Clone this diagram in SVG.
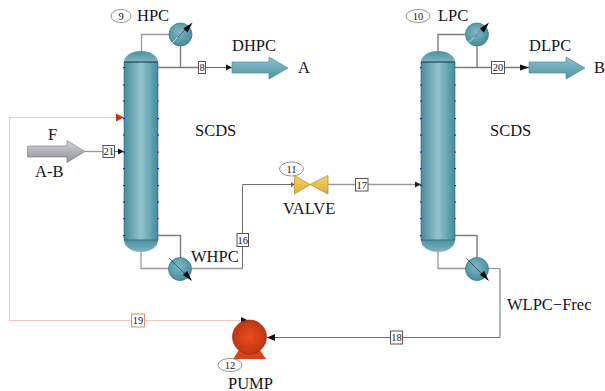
<svg xmlns="http://www.w3.org/2000/svg" width="605" height="391" viewBox="0 0 605 391">
<style>
text{font-family:"Liberation Serif","Times New Roman",serif;fill:#14141e}
.l{font-size:16.500px}
.n{font-size:10.500px;text-anchor:middle}
.s{fill:none;stroke:#6e6e6e;stroke-width:1}
.g{fill:none;stroke:#9a9a9a;stroke-width:1.300}
.d{fill:none;stroke:#7d7d7d;stroke-width:1.400}
.r{fill:none;stroke:#f2c9be;stroke-width:1.200}
.b{fill:#fff;stroke:#555;stroke-width:1}
.o{fill:#fff;stroke:#777;stroke-width:.8}
.p{fill:#2222ee}.m{fill:#b020b0}
.c{fill:url(#hx);stroke:#3d7f8e;stroke-width:.8}
</style>
<defs>
<linearGradient id="col" x1="0" x2="1" y1="0" y2="0"><stop offset="0" stop-color="#478c9b"/><stop offset=".5" stop-color="#93c3cd"/><stop offset="1" stop-color="#428c9c"/></linearGradient>
<linearGradient id="cap" x1="0" x2="0" y1="0" y2="1"><stop offset="0" stop-color="#4b929f"/><stop offset="1" stop-color="#7db6c2"/></linearGradient>
<radialGradient id="hx" cx=".45" cy=".4" r=".65"><stop offset="0" stop-color="#7fb9c5"/><stop offset="1" stop-color="#3f8899"/></radialGradient>
<linearGradient id="arr" x1="0" x2="0" y1="0" y2="1"><stop offset="0" stop-color="#8fc0cb"/><stop offset="1" stop-color="#4e95a5"/></linearGradient>
<linearGradient id="gry" x1="0" x2="0" y1="0" y2="1"><stop offset="0" stop-color="#d4d6da"/><stop offset="1" stop-color="#8b8e94"/></linearGradient>
<linearGradient id="vlv" x1="0" x2="0" y1="0" y2="1"><stop offset="0" stop-color="#f3d262"/><stop offset="1" stop-color="#e0b030"/></linearGradient>
<radialGradient id="pmp" cx=".5" cy=".5" r=".55"><stop offset="0" stop-color="#ee4c1e"/><stop offset="1" stop-color="#b93410"/></radialGradient>
<g id="column">
<path d="M0 11A17 11 0 0 1 34 11Z" fill="url(#cap)"/>
<rect x="0" y="11" width="34" height="178" fill="url(#col)"/>
<path d="M0 189H34A17 12 0 0 1 0 189Z" fill="url(#cap)"/>
<path d="M0 11H34" stroke="#1c2c30" stroke-width="1"/>
<path d="M0 189H34" stroke="#3f6c76" stroke-width="1.200"/>
<path d="M0 11V189M34 11V189" stroke="#2f6674" stroke-width=".6" fill="none"/>
</g>
<g id="dots">
<g class="p"><rect x="-1" y="16" width="2" height="1.200"/><rect x="-1" y="33.500" width="2" height="1.200"/><rect x="-1" y="49.500" width="2" height="1.200"/><rect x="-1" y="67" width="2" height="1.200"/><rect x="-1" y="83.500" width="2" height="1.200"/><rect x="-1" y="100.500" width="2" height="1.200"/><rect x="-1" y="117" width="2" height="1.200"/><rect x="-1" y="134" width="2" height="1.200"/><rect x="-1" y="150.500" width="2" height="1.200"/><rect x="-1" y="167" width="2" height="1.200"/><rect x="-1" y="184" width="2" height="1.200"/>
<rect x="33" y="67" width="2" height="1.200"/><rect x="33" y="83.500" width="2" height="1.200"/><rect x="33" y="117" width="2" height="1.200"/><rect x="33" y="134" width="2" height="1.200"/><rect x="33" y="150.500" width="2" height="1.200"/></g>
<g class="m"><rect x="33" y="33.500" width="2" height="1.200"/><rect x="33" y="49.500" width="2" height="1.200"/><rect x="33" y="100.500" width="2" height="1.200"/><rect x="33" y="167" width="2" height="1.200"/></g>
</g>
<g id="cond">
<circle r="11.500" class="c"/>
<path d="M-11 11L8 -8" stroke="#e8f0f2" stroke-width=".8"/><path d="M-3 3L9 -9" stroke="#233" stroke-width=".7"/>
<path d="M12 -12L3 -6L7 -2Z" fill="#000"/>
</g>
<g id="reb">
<circle r="11.500" class="c"/>
<path d="M-11 -11L11 11" stroke="#233" stroke-width=".7"/>
<path d="M12 12L3 6L7 2Z" fill="#000"/>
</g>
</defs>
<g id="connectors">
<path class="g" d="M141.500 51V34.500H170"/>
<path class="d" d="M158 67.500H205M180.500 45.500V67.500"/>
<path class="s" d="M205 67.500H232"/>
<path class="d" d="M158 235.500H180.500V258"/>
<path class="g" d="M141 252V268.500H169M192 268.500H242.500"/>
<path class="s" d="M242.500 268.500V184.500H294"/>
<path class="g" d="M328 184.500H421"/>
<path class="d" d="M438 51V34.500H466"/>
<path class="d" d="M455 67.500H529M477 45.500V67.500"/>
<path class="d" d="M455 235.500H477V258"/>
<path class="g" d="M438 252V268.500H466"/>
<path class="g" d="M488 268.500H500"/>
<path class="s" d="M500 268.500V337.500H267" stroke-width="1.200"/>
<path class="g" d="M85 151.500H103"/>
<path class="s" d="M114 151.500H124"/>
<path class="r" d="M124 117.500H9.500V320.500H248"/>
<path d="M124 117.500L116 113.500V121.500Z" fill="#c8320f"/>
<path d="M124 151.500L118 148.500V154.500Z" fill="#111"/>
<path d="M232 67.500L226 64.500V70.500Z" fill="#111"/>
<path d="M529 67.500L520 64.500V70.500Z" fill="#111"/>
<path d="M421 184.500L415 181.500V187.500Z" fill="#222"/>
<path d="M294.500 184.500L291 182V187Z" fill="#c8320f"/>
<path d="M248 320.500L241 317V324Z" fill="#111"/>
<path d="M267 337.500L275 334V341Z" fill="#111"/>
</g>
<g id="HPC">
<use href="#column" x="124" y="51"/><use href="#dots" x="124" y="51"/>
<text class="l" x="137" y="21">HPC</text>
<ellipse class="o" cx="121" cy="16" rx="10" ry="6.500"/><text class="n" x="121" y="19.500">9</text>
<text class="l" x="195" y="136">SCDS</text>
</g>
<g id="HPC-cond"><use href="#cond" x="180.500" y="34.500"/></g>
<g id="HPC-reb"><use href="#reb" x="180" y="269"/><text class="l" x="191" y="262">WHPC</text></g>
<g id="LPC">
<use href="#column" x="421" y="51"/><use href="#dots" x="421" y="51"/>
<text class="l" x="438" y="21">LPC</text>
<ellipse class="o" cx="418" cy="16" rx="12" ry="6.500"/><text class="n" x="418" y="19.500">10</text>
<text class="l" x="490" y="136">SCDS</text>
</g>
<g id="LPC-cond"><use href="#cond" x="477" y="34.500"/></g>
<g id="LPC-reb"><use href="#reb" x="477" y="269"/><text class="l" x="507" y="310">WLPC−Frec</text></g>
<g id="F">
<path d="M27.500 146H67V140.500L85 151.500L67 162.500V157H27.500Z" fill="url(#gry)" stroke="#777" stroke-width=".6"/>
<text class="l" x="48" y="140">F</text><text class="l" x="35" y="177">A-B</text>
</g>
<g id="DHPC">
<path d="M232 62H269V57L288 68L269 79V73H232Z" fill="url(#arr)" stroke="#3f7f8f" stroke-width=".6"/>
<text class="l" x="232" y="51">DHPC</text><text class="l" x="298" y="73">A</text>
</g>
<g id="DLPC">
<path d="M529 62H566V57L585 68L566 79V73H529Z" fill="url(#arr)" stroke="#3f7f8f" stroke-width=".6"/>
<text class="l" x="529" y="51">DLPC</text><text class="l" x="594" y="73">B</text>
</g>
<g id="VALVE">
<path d="M294.500 175.500L310 184.500L294.500 194ZM328 175.500L310 184.500L328 194Z" fill="url(#vlv)" stroke="#a88a2a" stroke-width=".7"/>
<ellipse class="o" cx="291.500" cy="169" rx="12" ry="7"/><text class="n" x="291.500" y="172.500">11</text>
<text class="l" x="283" y="214">VALVE</text>
</g>
<g id="PUMP">
<path d="M233 359L241 347H258L266 359Z" fill="#d9431a"/>
<circle cx="249.500" cy="337" r="17" fill="url(#pmp)" stroke="#7c2a10" stroke-width=".6"/>
<ellipse class="o" cx="230" cy="365" rx="12" ry="6.500"/><text class="n" x="230" y="368.500">12</text>
<text class="l" x="228" y="388.500">PUMP</text>
</g>
<g id="labels">
<rect class="b" x="198.500" y="61.500" width="7" height="12" stroke="#aaa"/><text class="n" x="202" y="71">8</text>
<rect class="b" x="491.500" y="61.500" width="13" height="12"/><text class="n" x="498" y="71">20</text>
<rect class="b" x="103" y="145.500" width="11.500" height="12"/><text class="n" x="108.700" y="155">21</text>
<rect class="b" x="355.500" y="178.500" width="12.500" height="12.500"/><text class="n" x="361.700" y="188.500">17</text>
<rect class="b" x="237" y="233.500" width="11.500" height="13" stroke="#aaa"/><text class="n" x="242.700" y="243.500">16</text>
<rect class="b" x="390.500" y="331" width="12" height="13"/><text class="n" x="396.500" y="341">18</text>
<rect x="131.500" y="314" width="13" height="13" fill="#fff" stroke="#e08a70"/><text class="n" x="138" y="324">19</text>
</g>
</svg>
